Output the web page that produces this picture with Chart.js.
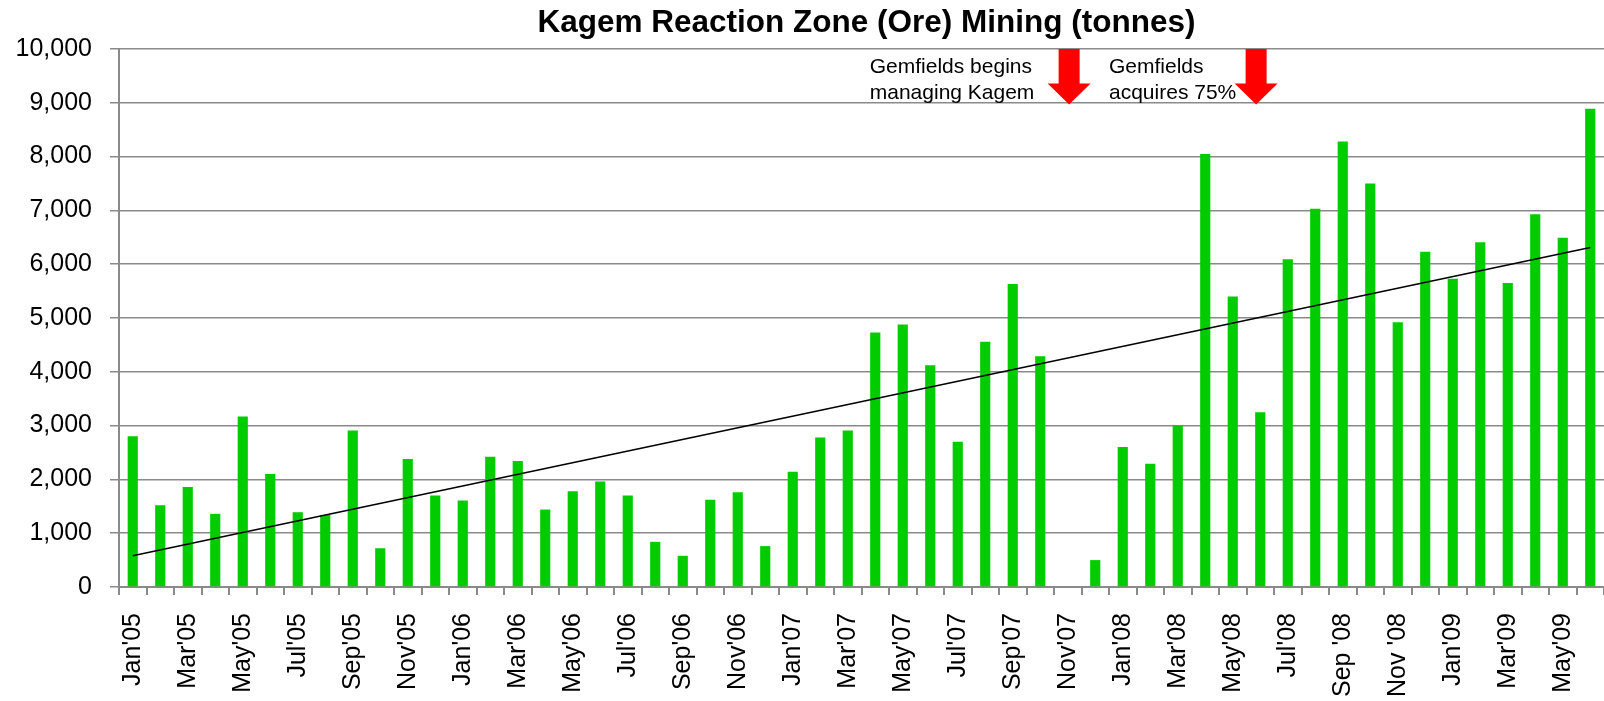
<!DOCTYPE html>
<html>
<head>
<meta charset="utf-8">
<title>Kagem Reaction Zone (Ore) Mining</title>
<script src="https://cdn.jsdelivr.net/npm/chart.js@4.4.1/dist/chart.umd.min.js"></script>
<style>
    html, body { margin: 0; padding: 0; background: #fff; }
    #wrap { width: 1604px; height: 701px; position: relative; }
</style>
</head>
<body>
<div id="wrap"><canvas id="oreChart"></canvas></div>
<script>
// Kagem ore mining per month, Jan'05 - Jun'09
const chartTitle = 'Kagem Reaction Zone (Ore) Mining (tonnes)';

// every month is a category, only every second label is printed
const months = [
    "Jan'05", "Feb'05", "Mar'05", "Apr'05", "May'05", "Jun'05", "Jul'05", "Aug'05", "Sep'05", "Oct'05", "Nov'05", "Dec'05",
    "Jan'06", "Feb'06", "Mar'06", "Apr'06", "May'06", "Jun'06", "Jul'06", "Aug'06", "Sep'06", "Oct'06", "Nov'06", "Dec'06",
    "Jan'07", "Feb'07", "Mar'07", "Apr'07", "May'07", "Jun'07", "Jul'07", "Aug'07", "Sep'07", "Oct'07", "Nov'07", "Dec'07",
    "Jan'08", "Feb'08", "Mar'08", "Apr'08", "May'08", "Jun'08", "Jul'08", "Aug'08", "Sep '08", "Oct '08", "Nov '08", "Dec '08",
    "Jan'09", "Feb'09", "Mar'09", "Apr'09", "May'09", "Jun'09"
];

// tonnes (no figure for Nov'07)
const tonnes = [
    2800, 1520, 1860, 1360, 3170, 2100, 1390, 1340, 2910, 720, 2380, 1700,
    1610, 2420, 2340, 1440, 1780, 1960, 1700, 840, 580, 1620, 1760, 760,
    2140, 2780, 2910, 4730, 4880, 4120, 2700, 4560, 5630, 4290, null, 500,
    2600, 2290, 3000, 8050, 5400, 3250, 6090, 7030, 8280, 7500, 4920, 6230,
    5730, 6410, 5650, 6930, 6490, 8890
];

// linear trend line: value at first and last month
const trendEnds = [580, 6310];

const yMin = 0;
const yMax = 10000;
const yStep = 1000;

const notes = [
    { lines: ['Gemfields begins', 'managing Kagem'], month: "Nov'07" },
    { lines: ['Gemfields', 'acquires 75%'], month: "Jun'08" }
];

const FONT = '"Liberation Sans", Arial, sans-serif';
const GRID = '#8a8a8a';

const trendData = months.map((m, i) => {
    if (i === 0) return trendEnds[0];
    if (i === months.length - 1) return trendEnds[1];
    return null;
});

// arrow / text placement, in category units relative to each note's month
const noteLayout = [
    { arrowShift: 0.05, textShift: -7.2 },
    { arrowShift: -0.15, textShift: -5.5 }
];

const overlayPlugin = {
    id: 'overlay',
    afterDatasetsDraw(chart) {
        const { ctx, chartArea, scales } = chart;
        const x = scales.x;
        const y = scales.y;
        ctx.save();

        // title, centred over the plot area
        ctx.fillStyle = '#000';
        ctx.font = 'bold 31.5px ' + FONT;
        ctx.textAlign = 'center';
        ctx.textBaseline = 'alphabetic';
        ctx.fillText(chartTitle, (chartArea.left + chartArea.right) / 2 + 5, 32);

        notes.forEach((note, i) => {
            const idx = months.indexOf(note.month);
            const lay = noteLayout[i];
            const cx = x.getPixelForValue(idx + lay.arrowShift);
            const top = y.getPixelForValue(10000);
            const neck = y.getPixelForValue(9360);
            const tip = y.getPixelForValue(8970);

            ctx.fillStyle = '#ff0000';
            ctx.beginPath();
            ctx.moveTo(cx - 10.5, top);
            ctx.lineTo(cx + 10.5, top);
            ctx.lineTo(cx + 10.5, neck);
            ctx.lineTo(cx + 21.5, neck);
            ctx.lineTo(cx, tip);
            ctx.lineTo(cx - 21.5, neck);
            ctx.lineTo(cx - 10.5, neck);
            ctx.closePath();
            ctx.fill();

            const tx = x.getPixelForValue(idx + lay.textShift);
            ctx.fillStyle = '#000';
            ctx.font = '21px ' + FONT;
            ctx.textAlign = 'left';
            note.lines.forEach((line, j) => {
                ctx.fillText(line, tx, 72.5 + j * 26.5);
            });
        });

        ctx.restore();
    }
};

const ctx = document.getElementById('oreChart').getContext('2d');
new Chart(ctx, {
    data: {
        labels: months,
        datasets: [
            {
                type: 'line',
                label: 'Trend',
                data: trendData,
                borderColor: '#000',
                borderWidth: 1.6,
                pointRadius: 0,
                spanGaps: true,
                fill: false,
                order: 0
            },
            {
                type: 'bar',
                label: 'Ore mined (tonnes)',
                data: tonnes,
                backgroundColor: '#00cc00',
                borderWidth: 0,
                barPercentage: 0.37,
                categoryPercentage: 1.0,
                order: 1
            }
        ]
    },
    options: {
        responsive: true,
        maintainAspectRatio: false,
        animation: false,
        events: [],
        layout: {
            padding: { top: 49, right: 0, bottom: 0, left: 0 }
        },
        plugins: {
            legend: { display: false },
            title: { display: false },
            tooltip: { enabled: false }
        },
        scales: {
            x: {
                offset: true,
                grid: {
                    offset: true,
                    drawOnChartArea: false,
                    drawTicks: true,
                    tickLength: 8,
                    color: GRID,
                    lineWidth: 2
                },
                border: { display: true, color: GRID, width: 2 },
                ticks: {
                    autoSkip: false,
                    maxRotation: 90,
                    minRotation: 90,
                    padding: 18,
                    color: '#000',
                    font: { family: FONT, size: 25 },
                    callback: (value, index) => index % 2 === 0 ? months[index] : ''
                },
                afterFit: (scale) => {
                    scale.height = 114;
                    scale.paddingLeft = 0;
                    scale.paddingRight = 0;
                }
            },
            y: {
                min: yMin,
                max: yMax,
                grid: {
                    color: GRID,
                    lineWidth: 1.5,
                    tickLength: 9
                },
                border: { display: true, color: GRID, width: 2 },
                ticks: {
                    stepSize: yStep,
                    padding: 18,
                    color: '#000',
                    font: { family: FONT, size: 25 },
                    callback: (value) => value.toLocaleString('en-US')
                },
                afterFit: (scale) => { scale.width = 119; }
            }
        }
    },
    plugins: [overlayPlugin]
});
</script>
</body>
</html>
